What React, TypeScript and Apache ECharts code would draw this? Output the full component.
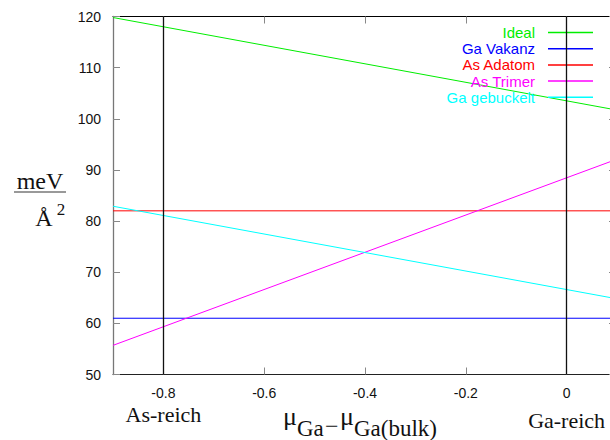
import React, { useEffect, useRef } from "react";
import * as echarts from "echarts";

// ---- data ----
const xRange = [-0.9, 0.1];
const yRange = [50, 120];
const seriesNames = ["Ideal", "Ga Vakanz", "As Adatom", "As Trimer", "Ga gebuckelt"];
const seriesColors = ["#00ee00", "#0000ff", "#ff0000", "#ff00ff", "#00ffff"];
const lineX = [-0.9, 0.1];
const idealValues = [119.8, 101.7];
const vakanzValues = [61, 61];
const adatomValues = [82, 82];
const trimerValues = [55.7, 92.1];
const gebuckeltValues = [82.9, 64.8];
const xTickValues = [-0.8, -0.6, -0.4, -0.2, 0];
const limitValues = [-0.8, 0];
const limitLabels = ["As-reich", "Ga-reich"];

const allValues = [idealValues, vakanzValues, adatomValues, trimerValues, gebuckeltValues];

const SANS = "Liberation Sans, Arial, sans-serif";
const SERIF = "Liberation Serif, Times New Roman, serif";

export default function App() {
  const ref = useRef<HTMLDivElement>(null);
  useEffect(() => {
    if (!ref.current) return;
    const chart = echarts.init(ref.current, undefined, { renderer: "svg" });
    const tickStyle = { show: true, inside: true, length: 7, lineStyle: { color: "#888", width: 1 } };
    const option: any = {
      animation: false,
      backgroundColor: "#fff",
      grid: {
        left: 113,
        top: 16.5,
        width: 504,
        height: 358,
        containLabel: false,
        outerBoundsMode: "none",
      },
      legend: {
        orient: "vertical",
        right: 12,
        top: 20,
        align: "right",
        icon: "rect",
        itemWidth: 45,
        itemHeight: 1.5,
        itemGap: 1.2,
        textStyle: { fontSize: 15, fontFamily: SANS, padding: [0, 8, 0, 0] },
        data: seriesNames.map((n, i) => ({ name: n, textStyle: { color: seriesColors[i] } })),
      },
      xAxis: [
        {
          type: "value",
          position: "bottom",
          min: xRange[0],
          max: xRange[1],
          splitLine: { show: false },
          axisLine: { show: true, onZero: false, lineStyle: { color: "#222", width: 1 } },
          axisTick: { ...tickStyle, customValues: xTickValues },
          axisLabel: {
            customValues: xTickValues,
            fontSize: 14,
            fontFamily: SANS,
            color: "#111",
            margin: 11,
            formatter: (v: number) => String(Math.round(v * 10) / 10),
          },
        },
        {
          type: "value",
          position: "top",
          min: xRange[0],
          max: xRange[1],
          splitLine: { show: false },
          axisLine: { show: true, onZero: false, lineStyle: { color: "#000", width: 1 } },
          axisTick: { ...tickStyle, customValues: xTickValues },
          axisLabel: { show: false },
        },
      ],
      yAxis: [
        {
          type: "value",
          position: "left",
          min: yRange[0],
          max: yRange[1],
          interval: 10,
          splitLine: { show: false },
          axisLine: { show: true, onZero: false, lineStyle: { color: "#777", width: 1.3 } },
          axisTick: tickStyle,
          axisLabel: { fontSize: 14, fontFamily: SANS, color: "#111", margin: 12 },
        },
        {
          type: "value",
          position: "right",
          min: yRange[0],
          max: yRange[1],
          interval: 10,
          splitLine: { show: false },
          axisLine: { show: true, onZero: false, lineStyle: { color: "#000", width: 1 } },
          axisTick: { ...tickStyle, length: 8 },
          axisLabel: { show: false },
        },
      ],
      series: seriesNames.map((name, i) => ({
        name,
        type: "line",
        xAxisIndex: 0,
        yAxisIndex: 0,
        symbol: "none",
        color: seriesColors[i],
        lineStyle: { color: seriesColors[i], width: 1 },
        data: lineX.map((x, j) => [x, allValues[i][j]]),
        silent: true,
        markLine:
          i === 0
            ? {
                silent: true,
                symbol: ["none", "none"],
                label: { show: false },
                lineStyle: { color: "#111", width: 1.3, type: "solid" },
                data: limitValues.map((v) => ({ xAxis: v })),
              }
            : undefined,
      })),
    };
    chart.setOption(option);

    const limitPx = limitValues.map((v) => chart.convertToPixel({ xAxisIndex: 0 }, v) as number);
    chart.setOption({
      graphic: [
        { type: "text", x: limitPx[0], y: 414, style: { text: limitLabels[0], font: `22px ${SERIF}`, fill: "#111", align: "center", verticalAlign: "middle" } },
        { type: "text", x: limitPx[1], y: 420, style: { text: limitLabels[1], font: `22px ${SERIF}`, fill: "#111", align: "center", verticalAlign: "middle" } },
        // x axis title
        { type: "text", x: 283, y: 416, style: { text: "μ", font: `26px ${SERIF}`, fill: "#111", align: "left", verticalAlign: "middle" } },
        { type: "text", x: 297, y: 428, style: { text: "Ga", font: `23px ${SERIF}`, fill: "#111", align: "left", verticalAlign: "middle" } },
        { type: "text", x: 325, y: 426, style: { text: "−", font: `24px ${SERIF}`, fill: "#111", align: "left", verticalAlign: "middle" } },
        { type: "text", x: 340, y: 416, style: { text: "μ", font: `26px ${SERIF}`, fill: "#111", align: "left", verticalAlign: "middle" } },
        { type: "text", x: 354, y: 428, style: { text: "Ga(bulk)", font: `23px ${SERIF}`, fill: "#111", align: "left", verticalAlign: "middle" } },
        // y axis title (fraction)
        { type: "text", x: 40, y: 181, style: { text: "meV", font: `24px ${SERIF}`, fill: "#111", align: "center", verticalAlign: "middle" } },
        { type: "line", shape: { x1: 14, y1: 192, x2: 66, y2: 192 }, style: { stroke: "#777", lineWidth: 1.5 } },
        { type: "text", x: 44, y: 218, style: { text: "Å", font: `24px ${SERIF}`, fill: "#111", align: "center", verticalAlign: "middle" } },
        { type: "text", x: 61, y: 209, style: { text: "2", font: `17px ${SERIF}`, fill: "#111", align: "center", verticalAlign: "middle" } },
      ],
    });
    return () => chart.dispose();
  }, []);
  return <div ref={ref} style={{ position: "fixed", left: 0, top: 0, width: 610, height: 440 }} />;
}
